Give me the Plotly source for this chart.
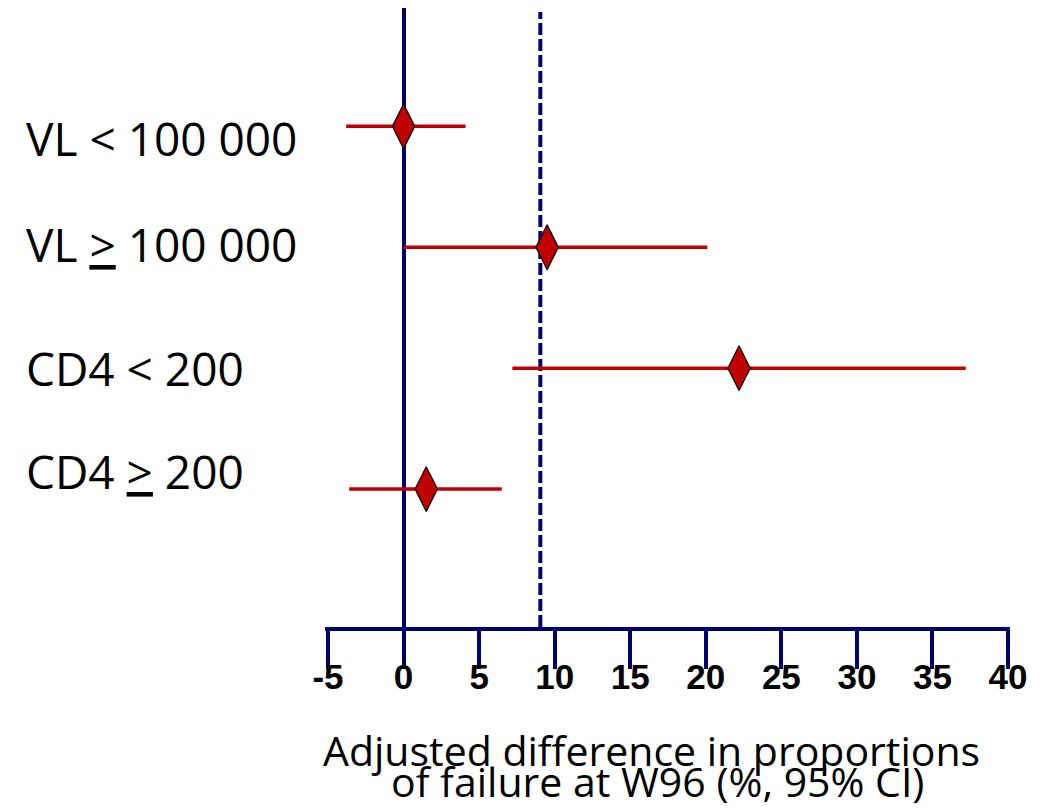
import plotly.graph_objects as go

# ---- data ----
subgroups = ["VL < 100 000", "VL <u>></u> 100 000", "CD4 < 200", "CD4 <u>></u> 200"]
estimates = [0.0, 9.5, 22.2, 1.5]
ci_low = [-3.8, 0.0, 7.2, -3.6]
ci_high = [4.1, 20.1, 37.2, 6.5]
overall_difference = 9.05
x_tick_values = [-5, 0, 5, 10, 15, 20, 25, 30, 35, 40]
x_tick_labels = ["-5", "0", "5", "10", "15", "20", "25", "30", "35", "40"]
x_title_lines = ["Adjusted difference in proportions", "of failure at W96 (%, 95% CI)"]

# ---- layout constants ----
row_pos = [4, 3, 2, 1]
label_pos = [3.9, 3.03, 2.005, 1.15]
NAVY = "#00006E"
RED = "#C00000"

fig = go.Figure()

# CI lines
cx, cy = [], []
for lo, hi, y in zip(ci_low, ci_high, row_pos):
    cx += [lo, hi, None]
    cy += [y, y, None]
fig.add_trace(go.Scatter(x=cx, y=cy, mode="lines",
                         line=dict(color=RED, width=3.5),
                         hoverinfo="skip", showlegend=False))

# point estimates
fig.add_trace(go.Scatter(x=estimates, y=row_pos, mode="markers",
                         marker=dict(symbol="diamond-tall", size=32, color=RED,
                                     line=dict(color="black", width=1.2)),
                         showlegend=False))

# dashed reference line (overall difference)
fig.add_shape(type="line", xref="x", yref="paper",
              x0=overall_difference, x1=overall_difference, y0=0, y1=0.9935,
              line=dict(color=NAVY, width=4, dash="12px,4px"), layer="below")

# subgroup labels
for txt, yp in zip(subgroups, label_pos):
    fig.add_annotation(text=txt, xref="paper", yref="y", x=-0.4394, y=yp,
                       xanchor="left", yanchor="middle", showarrow=False,
                       font=dict(family="Open Sans", size=46, color="black"))

# x-axis title (two lines)
for txt, xp, yp in zip(x_title_lines, [0.477, 0.485], [-0.1987, -0.2488]):
    fig.add_annotation(text=txt, xref="paper", yref="paper", x=xp, y=yp,
                       xanchor="center", yanchor="middle", showarrow=False,
                       font=dict(family="Open Sans", size=41, color="black"))

fig.update_xaxes(range=[-5.2, 40.13], tickvals=x_tick_values, ticktext=x_tick_labels,
                 showgrid=False, zeroline=True, zerolinecolor=NAVY, zerolinewidth=4,
                 showline=True, linecolor=NAVY, linewidth=4,
                 ticks="outside", ticklen=38, tickwidth=4, tickcolor=NAVY,
                 ticklabelstandoff=-22,
                 tickfont=dict(family="Liberation Sans", size=35, color="black", weight="bold"))
fig.update_yaxes(range=[-0.141, 4.979], showgrid=False, zeroline=False,
                 showline=False, showticklabels=False, ticks="")

# page body has an 8px default margin, so the figure is offset by 8px
fig.update_layout(width=1051, height=802,
                  margin=dict(l=317, r=49, t=0, b=183),
                  plot_bgcolor="white", paper_bgcolor="white",
                  showlegend=False)

fig.write_html("out.html")
